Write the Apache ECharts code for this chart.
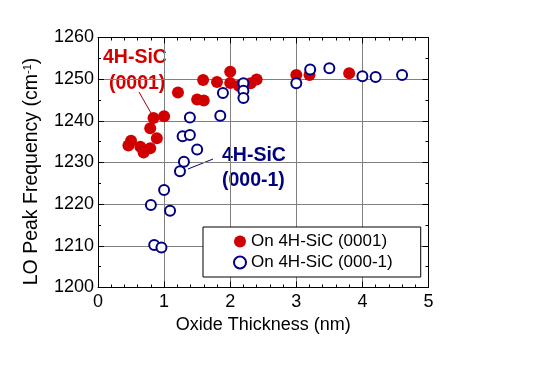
<!DOCTYPE html>
<html><head><meta charset="utf-8">
<script src="https://cdn.jsdelivr.net/npm/echarts@6/dist/echarts.min.js"></script>
<style>html,body{margin:0;padding:0;background:#fff}#c{width:544px;height:382px}</style>
</head><body><div id="c"></div>
<script>
const seriesNames = ['On 4H-SiC (0001)', 'On 4H-SiC (000-1)'];
const xTicks = [0, 1, 2, 3, 4, 5];
const yTicks = [1200, 1210, 1220, 1230, 1240, 1250, 1260];
const red0001 = [
  [0.46,1234.1],[0.50,1235.2],[0.64,1233.8],[0.69,1232.4],[0.79,1233.4],[0.89,1235.8],
  [0.79,1238.2],[0.84,1240.7],[1.00,1241.1],[1.21,1246.8],[1.50,1245.1],[1.60,1244.9],
  [1.59,1249.8],[1.80,1249.3],[2.00,1251.8],[2.00,1249.1],[2.13,1248.4],[2.31,1249.0],
  [2.40,1249.9],[3.00,1251.0],[3.20,1251.0],[3.80,1251.4]
];
const blue0001m = [
  [0.80,1219.8],[0.85,1210.2],[0.96,1209.6],[1.00,1223.4],[1.09,1218.4],[1.24,1227.9],
  [1.30,1230.2],[1.28,1236.3],[1.39,1236.6],[1.39,1240.8],[1.50,1233.1],[1.85,1241.2],
  [1.89,1246.7],[2.20,1249.0],[2.20,1247.2],[2.20,1245.5],[3.00,1249.0],[3.21,1252.3],
  [3.50,1252.6],[4.00,1250.7],[4.20,1250.5],[4.60,1251.0]
];
const FONT = 'Liberation Sans';
const RED = '#d00000', NAVY = '#000080';
const chart = echarts.init(document.getElementById('c'), null, {renderer:'canvas'});
const axisCommon = {
  min: 0, max: 5, interval: 1,
  axisLine: {show: true, onZero:false, lineStyle: {color: '#000', width: 1}},
  axisTick: {show: true, inside: true, length: 6, lineStyle: {color: '#000'}},
  minorTick: {show: true, splitNumber: 5, length: 3, lineStyle: {color: '#000'}},
};
chart.setOption({
  animation: false,
  grid: {left: 98, right: 115.5, top: 37.5, bottom: 94.5},
  xAxis: [
    Object.assign({}, axisCommon, {
      type: 'value', position: 'bottom',
      axisLabel: {color: '#000', fontSize: 18, fontFamily: FONT, margin: 6,
                  formatter: v => xTicks.includes(v) ? String(v) : ''},
      splitLine: {show: true, lineStyle: {color: '#808080', width: 1}},
      name: 'Oxide Thickness (nm)', nameLocation: 'middle', nameGap: 27,
      nameTextStyle: {color: '#000', fontSize: 18, fontFamily: FONT, verticalAlign: 'top'}
    }),
    Object.assign({}, axisCommon, {
      type: 'value', position: 'top',
      axisLabel: {show: false}, splitLine: {show: false}
    })
  ],
  yAxis: [
    {
      type: 'value', min: 1200, max: 1260, interval: 10, position: 'left',
      axisLine: {show: true, onZero:false, lineStyle: {color: '#000'}},
      axisTick: {show: true, inside: true, length: 6, lineStyle: {color: '#000'}},
      minorTick: {show: true, splitNumber: 2, length: 3, lineStyle: {color: '#000'}},
      axisLabel: {color: '#000', fontSize: 18, fontFamily: FONT, margin: 4,
                  formatter: v => yTicks.includes(v) ? String(v) : ''},
      splitLine: {show: true, lineStyle: {color: '#808080', width: 1}},
      name: '{a|LO Peak Frequency (cm}{s|-1}{a|)}', nameLocation: 'middle', nameGap: 56, nameRotate: 90,
      nameTextStyle: {padding: [0, 18, 0, 0], rich: {
        a: {color: '#000', fontSize: 19.5, fontFamily: FONT},
        s: {color: '#000', fontSize: 11, fontFamily: FONT, verticalAlign: 'top', padding:[0,0,9,0]}
      }}
    },
    {
      type: 'value', min: 1200, max: 1260, interval: 10, position: 'right',
      axisLine: {show: true, onZero:false, lineStyle: {color: '#000'}},
      axisTick: {show: true, inside: true, length: 6, lineStyle: {color: '#000'}},
      minorTick: {show: true, splitNumber: 2, length: 3, lineStyle: {color: '#000'}},
      axisLabel: {show: false}, splitLine: {show: false}
    }
  ],
  legend: {
    left: 203, top: 227, orient: 'vertical',
    backgroundColor: '#fff',
    borderColor: '#000', borderWidth: 1, borderRadius: 0,
    padding: [6, 28, 6, 30], itemGap: 4, itemWidth: 12, itemHeight: 12,
    textStyle: {color: '#000', fontSize: 17, fontFamily: FONT},
    data: [{name: seriesNames[0], icon: 'circle'}, {name: seriesNames[1], icon: 'circle'}]
  },
  series: [
    {name: seriesNames[0], type: 'scatter', data: red0001, symbol: 'circle', symbolSize: 12,
     itemStyle: {color: RED, opacity: 1}},
    {name: seriesNames[1], type: 'scatter', data: blue0001m, symbol: 'circle', symbolSize: 10,
     itemStyle: {color: '#fff', borderColor: NAVY, borderWidth: 2, opacity: 1}}
  ],
  graphic: [
    {type: 'text', left: 103, top: 48, style: {text: '4H-SiC', fill: RED, font: 'bold 19.5px "Liberation Sans"'}},
    {type: 'text', left: 109, top: 74, style: {text: '(0001)', fill: RED, font: 'bold 19.5px "Liberation Sans"'}},
    {type: 'line', shape: {x1: 139, y1: 92, x2: 151, y2: 113}, style: {stroke: '#a00000', lineWidth: 1}},
    {type: 'text', left: 222, top: 146, style: {text: '4H-SiC', fill: NAVY, font: 'bold 19.5px "Liberation Sans"'}},
    {type: 'text', left: 222, top: 171, style: {text: '(000-1)', fill: NAVY, font: 'bold 19.5px "Liberation Sans"'}},
    {type: 'line', shape: {x1: 188, y1: 169, x2: 213, y2: 159}, style: {stroke: NAVY, lineWidth: 1}}
  ]
});
</script></body></html>
